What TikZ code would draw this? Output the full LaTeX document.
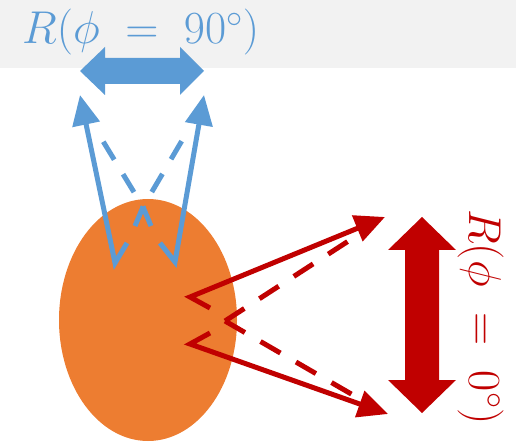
\RequirePackage{fix-cm}
\documentclass[tikz,border=0pt]{standalone}
\usepackage{amsmath}
\usepackage{xcolor}
\usetikzlibrary{arrows.meta}
\definecolor{rayblue}{HTML}{5B9BD5}
\definecolor{bloborange}{HTML}{ED7D31}
\definecolor{rayred}{HTML}{C00000}
\definecolor{bandgray}{HTML}{F2F2F2}

\begin{document}
\begin{tikzpicture}[x=1pt,y=-1pt,>={Triangle[length=30pt,width=27pt]},
  ray/.style={line width=5pt},
  dray/.style={line width=5pt,dash pattern=on 21pt off 17pt},
  every node/.style={font=\fontsize{46}{52}\selectfont,inner sep=0pt}]
\useasboundingbox (0,0) rectangle (516,443);
\fill[bandgray] (0,0) rectangle (516,68);
\node[text=rayblue,anchor=base west] (bluelab) at (22,44) {$R(\phi \;=\; 90^\circ)$};
\node[text=rayred,anchor=base west,rotate=-90] (redlab) at (469,209) {$R(\phi \;=\; 0^\circ)$};
\fill[bloborange] (148,320) ellipse [x radius=89, y radius=121];
\fill[rayblue] (80,71) -- (105,47) -- (105,58) -- (180,58) -- (180,47) -- (204,71)
  -- (180,95) -- (180,84) -- (105,84) -- (105,95) -- cycle;
\fill[rayred] (422,217) -- (456,250) -- (439,250) -- (439,380) -- (456,380) -- (422,413)
  -- (388,380) -- (405,380) -- (405,250) -- (388,250) -- cycle;
\coordinate (bl0) at (127,243);
\coordinate (bl1) at (115,263);
\coordinate (bl2) at (80,95);
\coordinate (br0) at (160,243);
\coordinate (br1) at (175,262);
\coordinate (br2) at (204,95);
\coordinate (bdl) at (135,226);
\coordinate (bdr) at (151,226);
\coordinate (bd) at (143,207);
\coordinate (bdl2) at (98,133);
\coordinate (bdr2) at (187,132);
\draw[rayblue,ray,->] (bl0) -- (bl1) -- (bl2);
\draw[rayblue,ray,->] (br0) -- (br1) -- (br2);
\draw[rayblue,dray] (bdl) -- (bd) -- (bdl2);
\draw[rayblue,dray] (bdr) -- (bd) -- (bdr2);
\coordinate (ru0) at (210,308);
\coordinate (ru1) at (190,297);
\coordinate (ru2) at (385,217);
\coordinate (rd0) at (210,333);
\coordinate (rd1) at (190,344);
\coordinate (rd2) at (388,414);
\coordinate (rdash) at (225,321);
\coordinate (rdu) at (350,240);
\coordinate (rdd) at (353,395);
\draw[rayred,ray,->] (ru0) -- (ru1) -- (ru2);
\draw[rayred,ray,->] (rd0) -- (rd1) -- (rd2);
\draw[rayred,line width=5pt,dash pattern=on 23pt off 18pt] (rdash) -- (rdu);
\draw[rayred,line width=5pt,dash pattern=on 23pt off 18pt] (rdash) -- (rdd);
\end{tikzpicture}
\end{document}
